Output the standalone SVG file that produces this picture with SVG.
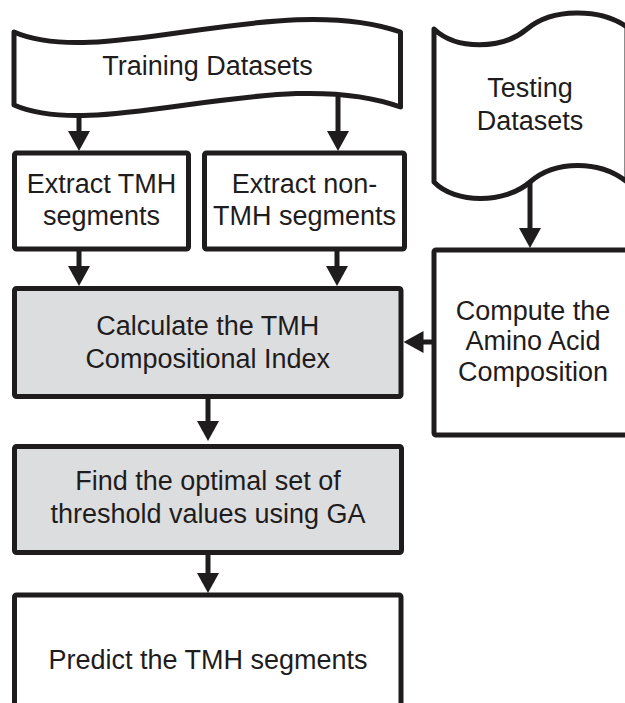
<svg xmlns="http://www.w3.org/2000/svg" width="625" height="703" viewBox="0 0 625 703">
  <defs>
    <style>
      .shape { fill: #ffffff; stroke: #1f1c1d; stroke-width: 5; stroke-linejoin: round; }
      .shade { fill: #dcdddf; }
      .label { font-family: "Liberation Sans", Arial, Helvetica, sans-serif; font-size: 27px; fill: #1f1c1d; text-anchor: middle; }
      .wire { stroke: #1f1c1d; stroke-width: 5; fill: none; marker-end: url(#head); }
    </style>
    <marker id="head" viewBox="0 0 20 22" markerUnits="userSpaceOnUse" markerWidth="20" markerHeight="22" refX="10" refY="11" orient="auto">
      <path d="M0,0 L20,11 L0,22 Z" fill="#1f1c1d"/>
    </marker>
  </defs>

  <rect width="625" height="703" fill="#ffffff"/>

  <!-- Training data (document shape) -->
  <g id="training-datasets">
    <path class="shape" d="M14,32 C100,70 280,-10 400.5,32 L400.5,107 C280,63 100,143 14,105 Z"/>
    <text class="label" x="207.5" y="75">Training Datasets</text>
  </g>

  <!-- Testing data (document shape, right side runs off the page) -->
  <g id="testing-datasets">
    <path class="shape" d="M434,29 C456,50 502,50 527,29 C552,8 600,8 627,27 L627,182 C600,160 555,160 530,182 C505,204 455,204 434,182 Z"/>
    <text class="label" x="530" y="97">Testing</text>
    <text class="label" x="530" y="130">Datasets</text>
  </g>

  <g id="extract-tmh">
    <rect class="shape" x="14.5" y="153" width="174" height="96" rx="2"/>
    <text class="label" x="101.5" y="193">Extract TMH</text>
    <text class="label" x="101.5" y="225">segments</text>
  </g>

  <g id="extract-non-tmh">
    <rect class="shape" x="204.5" y="153" width="200" height="96" rx="2"/>
    <text class="label" x="304.5" y="193">Extract non-</text>
    <text class="label" x="304.5" y="225">TMH segments</text>
  </g>

  <g id="calculate-index">
    <rect class="shape shade" x="14.5" y="288.5" width="386.5" height="108" rx="2"/>
    <text class="label" x="207.7" y="335">Calculate the TMH</text>
    <text class="label" x="207.7" y="368">Compositional Index</text>
  </g>

  <g id="compute-composition">
    <rect class="shape" x="434" y="250" width="200" height="185" rx="2"/>
    <text class="label" x="533" y="320">Compute the</text>
    <text class="label" x="533" y="350">Amino Acid</text>
    <text class="label" x="533" y="381">Composition</text>
  </g>

  <g id="find-thresholds">
    <rect class="shape shade" x="14.5" y="446.5" width="387" height="106" rx="2"/>
    <text class="label" x="208" y="490">Find the optimal set of</text>
    <text class="label" x="208" y="523">threshold values using GA</text>
  </g>

  <g id="predict-segments">
    <rect class="shape" x="14.5" y="595" width="386.5" height="200" rx="2"/>
    <text class="label" x="208" y="669">Predict the TMH segments</text>
  </g>

  <!-- Flow arrows -->
  <g id="connectors">
    <line class="wire" x1="79" y1="115" x2="79" y2="141"/>
    <line class="wire" x1="338" y1="93" x2="338" y2="141"/>
    <line class="wire" x1="79" y1="249" x2="79" y2="276"/>
    <line class="wire" x1="337" y1="249" x2="337" y2="276"/>
    <line class="wire" x1="530" y1="182" x2="530" y2="238"/>
    <line class="wire" x1="434" y1="342" x2="413.5" y2="342"/>
    <line class="wire" x1="208" y1="397" x2="208" y2="431"/>
    <line class="wire" x1="208" y1="552" x2="208" y2="583"/>
  </g>
</svg>
